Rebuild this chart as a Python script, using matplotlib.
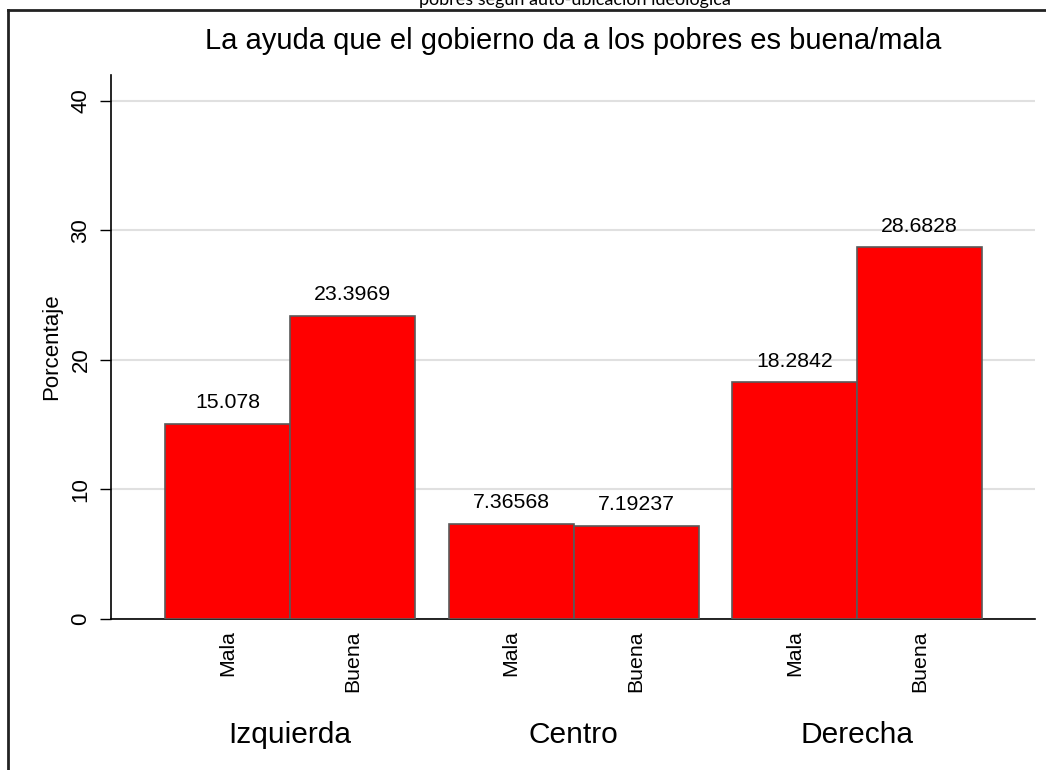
import matplotlib
matplotlib.use("Agg")
import matplotlib.pyplot as plt
from matplotlib.lines import Line2D

plt.rcParams['font.family'] = ['Liberation Sans', 'DejaVu Sans']

groups = ["Izquierda", "Centro", "Derecha"]
answers = ["Mala", "Buena"]
values = {
    "Izquierda": [15.078, 23.3969],
    "Centro": [7.36568, 7.19237],
    "Derecha": [18.2842, 28.6828],
}
labels = {
    "Izquierda": ["15.078", "23.3969"],
    "Centro": ["7.36568", "7.19237"],
    "Derecha": ["18.2842", "28.6828"],
}
yticks = [0, 10, 20, 30, 40]
title = "La ayuda que el gobierno da a los pobres es buena/mala"
outer_title = "pobres según auto-ubicación ideológica"

W, H = 1046, 770
fig = plt.figure(figsize=(W / 100, H / 100), dpi=100)
ax = fig.add_axes([111 / W, (H - 619) / H, (1035 - 111) / W, (619 - 75) / H])

pitch = 2.268
xs, hs, names, lbls = [], [], [], []
for g, grp in enumerate(groups):
    for j, a in enumerate(answers):
        xs.append(g * pitch + (j - 0.5))
        hs.append(values[grp][j])
        names.append(a)
        lbls.append(labels[grp][j])

bars = ax.bar(xs, hs, width=1.0, color="#ff0000", edgecolor="#5a5a5a", linewidth=1.2, zorder=3)
for x, h, l in zip(xs, hs, lbls):
    ax.text(x, h + 0.9, l, ha="center", va="bottom", fontsize=15.3, zorder=4)

ax.set_xlim(-1.432, 5.96)
ax.set_ylim(0, 42)
ax.set_yticks(yticks)
ax.set_yticklabels([str(v) for v in yticks], rotation=90, va="center", fontsize=16)
ax.tick_params(axis="y", length=8, width=1, pad=6)
ax.set_xticks(xs)
ax.set_xticklabels(names, rotation=90, fontsize=15.3, va="top")
ax.tick_params(axis="x", length=0, pad=8)
for s in ["top", "right"]:
    ax.spines[s].set_visible(False)
ax.spines["left"].set_linewidth(1.2)
ax.spines["bottom"].set_linewidth(1.2)
ax.grid(axis="y", color="#e0e0e0", linewidth=1.5, zorder=0)
ax.set_axisbelow(True)
ax.set_ylabel("Porcentaje", fontsize=16)
ax.yaxis.set_label_coords((62 - 111) / (1035 - 111), 0.5)

for g, grp in enumerate(groups):
    ax.text(g * pitch, -0.213, grp, transform=ax.get_xaxis_transform(), ha="center",
            va="center", fontsize=21.5)

fig.text(573.5 / W, 1 - 41 / H, title, ha="center", va="center", fontsize=21)
fig.text(575 / W, 1 - 5 / H, outer_title, ha="center", va="baseline", fontsize=13,
         family=["Lato", "DejaVu Sans"])

fig.add_artist(Line2D([7.5 / W, 1.0], [1 - 10 / H, 1 - 10 / H], color="#222222", linewidth=2,
                      transform=fig.transFigure))
fig.add_artist(Line2D([7.5 / W, 7.5 / W], [0, 1 - 10 / H], color="#222222", linewidth=2,
                      transform=fig.transFigure))

fig.savefig("out.png", dpi=100)
